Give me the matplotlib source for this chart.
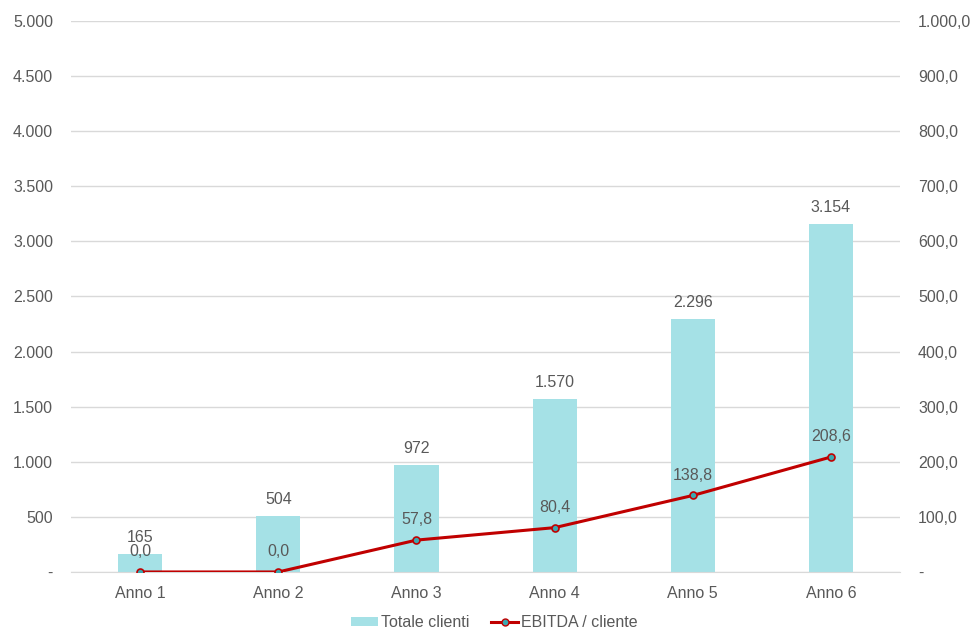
import matplotlib.pyplot as plt
from matplotlib.ticker import FuncFormatter
from matplotlib.lines import Line2D
from matplotlib.patches import Patch

plt.rcParams['font.family'] = ['Liberation Sans', 'DejaVu Sans']

# Data
categories = ['Anno 1', 'Anno 2', 'Anno 3', 'Anno 4', 'Anno 5', 'Anno 6']
totale_clienti = [165, 504, 972, 1570, 2296, 3154]
ebitda_cliente = [0.0, 0.0, 57.8, 80.4, 138.8, 208.6]

text_col = '#595959'
bar_col = '#A5E1E6'
line_col = '#C00000'
fs = 11.5


def it_num(v, dec=0):
    """Format a number Italian style (dot thousands, comma decimals), zero as '-'."""
    if abs(v) < 1e-9:
        return '-'
    return it_label(v, dec)


def it_label(v, dec=0):
    s = f"{v:,.{dec}f}"
    return s.replace(',', 'X').replace('.', ',').replace('X', '.')


fig = plt.figure(figsize=(9.73, 6.32), dpi=100)
ax = fig.add_axes([0.073, 0.095, 0.852, 0.872])
ax2 = ax.twinx()

x = list(range(len(categories)))

# Bars on the left axis
ax.bar(x, totale_clienti, width=0.32, color=bar_col, zorder=2)
for xi, v in zip(x, totale_clienti):
    ax.annotate(it_label(v), (xi, v), xytext=(0, 12), textcoords='offset points',
                ha='center', va='center', fontsize=fs, color=text_col)

# Line on the right axis
ax2.plot(x, ebitda_cliente, color=line_col, linewidth=2.2, marker='o',
         markersize=5, markerfacecolor='#3BA8B0', markeredgecolor=line_col,
         markeredgewidth=1.2, zorder=3)
for xi, v in zip(x, ebitda_cliente):
    ax2.annotate(it_label(v, 1), (xi, v), xytext=(0, 14.5), textcoords='offset points',
                 ha='center', va='center', fontsize=fs, color=text_col)

ax.set_xlim(-0.5, len(categories) - 0.5)
ax.set_ylim(0, 5000)
ax2.set_ylim(0, 1000)
ax.set_yticks(range(0, 5001, 500))
ax2.set_yticks(range(0, 1001, 100))
ax.yaxis.set_major_formatter(FuncFormatter(lambda v, p: it_num(v)))
ax2.yaxis.set_major_formatter(FuncFormatter(lambda v, p: it_num(v, 1)))

ax.set_xticks(x)
ax.set_xticklabels(categories)

# Gridlines and styling
ax.grid(axis='y', color='#D9D9D9', linewidth=1, zorder=0)
ax.set_axisbelow(True)
for a in (ax, ax2):
    for sp in a.spines.values():
        sp.set_visible(False)
    a.tick_params(length=0, labelsize=fs, labelcolor=text_col)
ax.spines['bottom'].set_visible(True)
ax.spines['bottom'].set_color('#D9D9D9')
ax.tick_params(axis='y', pad=13)
ax2.tick_params(axis='y', pad=13)
ax.tick_params(axis='x', pad=10)

# Legend at the bottom
handles = [Patch(facecolor=bar_col, label='Totale clienti'),
           Line2D([0], [0], color=line_col, linewidth=2.2, marker='o', markersize=5,
                  markerfacecolor='#3BA8B0', markeredgecolor=line_col, label='EBITDA / cliente')]
fig.legend(handles=handles, loc='lower center', bbox_to_anchor=(0.508, -0.02), ncol=2,
           frameon=False, fontsize=fs, labelcolor=text_col, handlelength=1.7,
           handleheight=0.5, handletextpad=0.15, columnspacing=1.4)

fig.savefig('out.png', dpi=100)
